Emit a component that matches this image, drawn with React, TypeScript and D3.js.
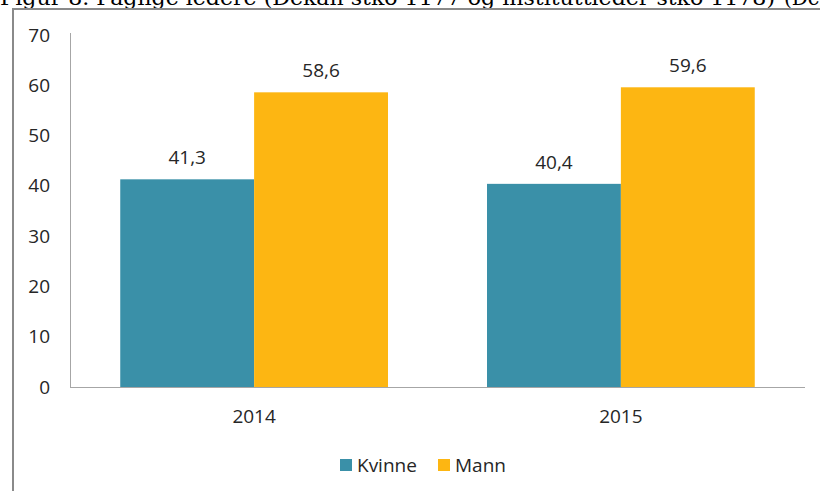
import React from "react";
import * as d3 from "d3";

const categories = ["2014", "2015"];
const seriesNames = ["Kvinne", "Mann"];
const kvinne = [41.3, 40.4];
const mann = [58.6, 59.6];
const yTicks = [0, 10, 20, 30, 40, 50, 60, 70];
const colors = ["#3A90A8", "#FDB612"];
const titleText = "Figur 8. Faglige ledere (Dekan stko 1177 og instituttleder stko 1178)";
const titleTail = "(Dekan";

const fmt = (v: number) => v.toFixed(1).replace(".", ",");

export default function App() {
  const W = 820, H = 491;
  const left = 70, right = 805, top = 35, bottom = 387;
  const x0 = d3.scaleBand<string>().domain(categories).range([left, right]).paddingInner(0.27).paddingOuter(0.137);
  const x1 = d3.scaleBand<string>().domain(seriesNames).range([0, x0.bandwidth()]);
  const y = d3.scaleLinear().domain([0, 70]).range([bottom, top]);
  const series = [kvinne, mann];
  const font = "'Open Sans', Lato, sans-serif";
  const fs = 19;

  return (
    <svg width={W} height={H} style={{ position: "absolute", left: 0, top: 0, background: "#fff" }}>
      <text x={0} y={5} fontFamily="'DejaVu Serif', serif" fontSize={20} textLength={775} lengthAdjust="spacingAndGlyphs" fill="#000">
        {titleText}
      </text>
      <text x={784} y={5} fontFamily="'DejaVu Serif', serif" fontSize={20} fill="#000">{titleTail}</text>
      <line x1={12} y1={9} x2={820} y2={9} stroke="#8a8a8a" strokeWidth={2} />
      <line x1={13} y1={8} x2={13} y2={491} stroke="#8a8a8a" strokeWidth={2} />

      {yTicks.map((t) => (
        <text key={t} x={50} y={y(t) + 6.5} textAnchor="end" fontFamily={font} fontSize={fs} fill="#262626">
          {t}
        </text>
      ))}
      <line x1={left + 0.5} y1={top - 2} x2={left + 0.5} y2={bottom} stroke="#a6a6a6" />
      {categories.map((c, i) => (
        <g key={c}>
          {seriesNames.map((s, j) => {
            const v = series[j][i];
            const bx = (x0(c) as number) + (x1(s) as number);
            return (
              <g key={s}>
                <rect x={bx} y={y(v)} width={x1.bandwidth()} height={bottom - y(v)} fill={colors[j]} />
                <text x={bx + x1.bandwidth() / 2} y={y(v) - 15} textAnchor="middle" fontFamily={font} fontSize={fs} fill="#262626">
                  {fmt(v)}
                </text>
              </g>
            );
          })}
          <text x={(x0(c) as number) + x0.bandwidth() / 2} y={423} textAnchor="middle" fontFamily={font} fontSize={fs} fill="#262626">
            {c}
          </text>
        </g>
      ))}
      <line x1={left} y1={bottom + 0.5} x2={right} y2={bottom + 0.5} stroke="#a6a6a6" />

      {seriesNames.map((s, j) => {
        const lx = j === 0 ? 340 : 438;
        return (
          <g key={s}>
            <rect x={lx} y={459} width={12} height={12} fill={colors[j]} />
            <text x={lx + 17} y={472} fontFamily={font} fontSize={fs} fill="#262626">{s}</text>
          </g>
        );
      })}
    </svg>
  );
}
